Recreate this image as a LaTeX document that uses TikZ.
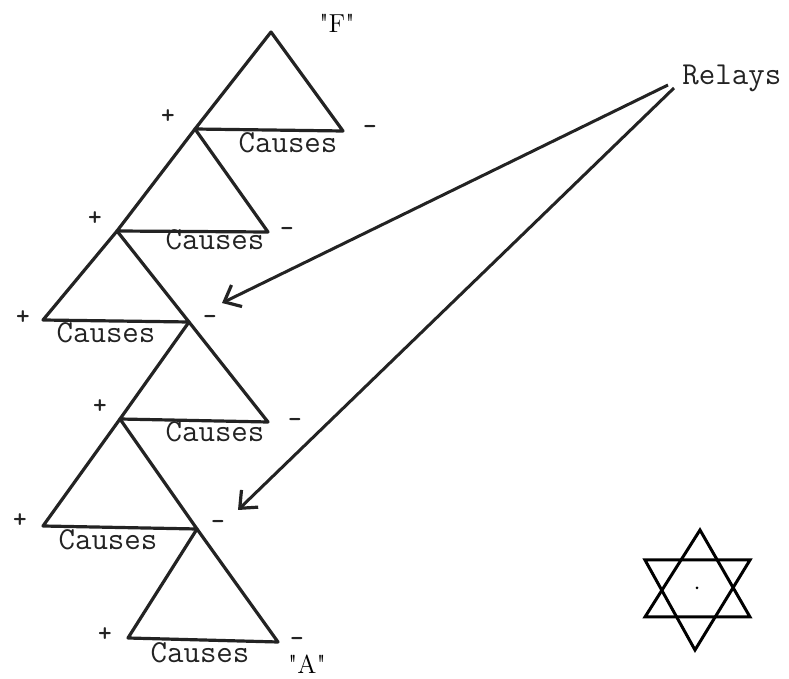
\documentclass[tikz,border=0pt]{standalone}
\usepackage{fontspec}
\usetikzlibrary{arrows.meta}
\definecolor{ink}{RGB}{35,35,35}

\begin{document}
\begin{tikzpicture}[x=0.5pt, y=-0.5pt,
    edge/.style={draw=ink, line width=1.6pt, line join=round},
    cause/.style={font=\fontsize{16}{18}\selectfont\ttfamily, text=ink, inner sep=0pt},
    sign/.style={font=\fontsize{13}{14}\selectfont\ttfamily\bfseries, text=ink, inner sep=0pt},
    endlabel/.style={font=\fontsize{13}{14}\selectfont, inner sep=0pt},
    relay/.style={-{Straight Barb[length=7pt, width=12pt, line width=1.6pt]}, draw=ink, line width=1.5pt}]

\useasboundingbox (0,0) rectangle (789,679);

% ════════════════════════════════════════
%  Chain of triangles, "F" down to "A"
% ════════════════════════════════════════

% corners
\coordinate (a1) at (271,32);
\coordinate (b1) at (195,129);
\coordinate (c1) at (343,131);
\coordinate (b2) at (117,231);
\coordinate (c2) at (268,232);
\coordinate (b3) at (43,320);
\coordinate (c3) at (189,322);
\coordinate (b4) at (120,419);
\coordinate (c4) at (268,422);
\coordinate (b5) at (43,526);
\coordinate (c5) at (197,529);
\coordinate (b6) at (128,638);
\coordinate (c6) at (278,642);

% triangles
\draw[edge] (a1) -- (b1) -- (c1) -- cycle;
\draw[edge] (b1) -- (b2) -- (c2) -- cycle;
\draw[edge] (b2) -- (b3) -- (c3) -- cycle;
\draw[edge] (c3) -- (b4) -- (c4) -- cycle;
\draw[edge] (b4) -- (b5) -- (c5) -- cycle;
\draw[edge] (c5) -- (b6) -- (c6) -- cycle;

% end labels
\node[endlabel] (ftop) at (337,23) {\textquotedbl F\textquotedbl};
\node[endlabel] (abot) at (307,664) {\textquotedbl A\textquotedbl};

% Causes labels
\node[cause] (cause1) at (288,143) {Causes};
\node[cause] (cause2) at (215,240) {Causes};
\node[cause] (cause3) at (106,333) {Causes};
\node[cause] (cause4) at (215,432) {Causes};
\node[cause] (cause5) at (108,540) {Causes};
\node[cause] (cause6) at (200,653) {Causes};

% plus signs
\node[sign] (p1) at (168,117) {+};
\node[sign] (p2) at (95,219) {+};
\node[sign] (p3) at (23,318) {+};
\node[sign] (p4) at (100,407) {+};
\node[sign] (p5) at (20,521) {+};
\node[sign] (p6) at (105,635) {+};

% minus signs
\node[sign] (m1) at (370,130) {-};
\node[sign] (m2) at (287,232) {-};
\node[sign] (m3) at (210,320) {-};
\node[sign] (m4) at (295,423) {-};
\node[sign] (m5) at (218,525) {-};
\node[sign] (m6) at (297,642) {-};

% ════════════════════════════════════════
%  Relays
% ════════════════════════════════════════

\node[cause, anchor=west] (relays) at (682,78) {Relays};

\coordinate (hit3) at (222,303);
\coordinate (hit5) at (238,510);

\draw[relay] ([xshift=-7pt, yshift=-3.5pt]relays.west) -- (hit3);
\draw[relay] ([xshift=-4pt, yshift=-5pt]relays.west) -- (hit5);

% ════════════════════════════════════════
%  Star
% ════════════════════════════════════════

\draw[line width=1.5pt, line join=miter] (700,530) -- (645,617) -- (750,617) -- cycle;
\draw[line width=1.5pt, line join=miter] (645,560) -- (750,560) -- (695,650) -- cycle;
\fill (697,588) circle (1.5);

\end{tikzpicture}
\end{document}
